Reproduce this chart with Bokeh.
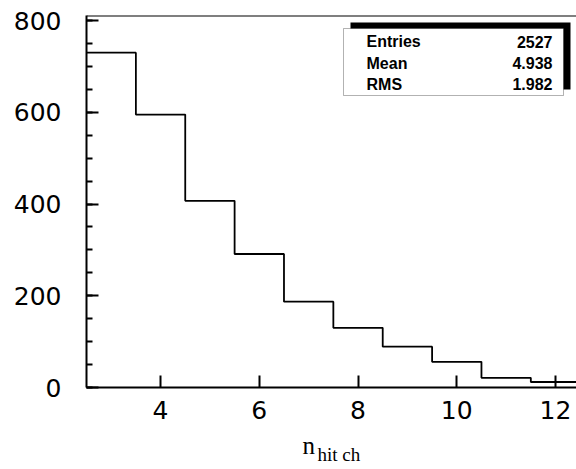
from bokeh.plotting import figure
from bokeh.models import Range1d, Label, FixedTicker, BoxAnnotation, Span
from bokeh.layouts import column
from bokeh.embed import file_html
from bokeh.resources import INLINE
from bokeh.core.properties import value

# ---- data ----
bin_centers = [3, 4, 5, 6, 7, 8, 9, 10, 11, 12]
counts = [730, 595, 407, 291, 187, 130, 89, 56, 21, 12]
x_ticks = [4, 6, 8, 10, 12]
y_ticks = [0, 200, 400, 600, 800]
y_minor = list(range(0, 851, 50))
stat_names = ["Entries", "Mean", "RMS"]
stat_values = ["2527", "4.938", "1.982"]
x_label_main = "n"
x_label_sub = "hit ch"

X0, X1 = 2.5, 12.425
Y0, Y1 = 0, 811

W = 576
H1, H2 = 430, 39
FL, FT, FB = 86, 15, 387  # frame left/top/bottom in px
p = figure(width=W, height=H1, x_range=Range1d(X0, X1), y_range=Range1d(Y0, Y1),
           output_backend="svg", toolbar_location=None,
           min_border_left=FL, min_border_right=0, min_border_top=FT,
           min_border_bottom=H1 - FB)
p.outline_line_color = None
p.grid.visible = False
p.background_fill_color = "white"
p.border_fill_color = "white"

def px_x(px):
    return X0 + (px - FL) / (W - FL) * (X1 - X0)

def px_y(py):
    return Y1 - (py - FT) / (FB - FT) * (Y1 - Y0)

# axes
ya = p.yaxis[0]
ya.ticker = FixedTicker(ticks=y_ticks, minor_ticks=y_minor)
xa = p.xaxis[0]
xa.ticker = FixedTicker(ticks=x_ticks, minor_ticks=[])
for ax in (xa, ya):
    ax.axis_line_width = 2
    ax.axis_line_color = "black"
    ax.major_tick_in = 12
    ax.major_tick_out = 0
    ax.minor_tick_in = 6
    ax.minor_tick_out = 0
    ax.major_tick_line_width = 2
    ax.minor_tick_line_width = 2
    ax.major_tick_line_color = "black"
    ax.minor_tick_line_color = "black"
    ax.major_label_text_font = "DejaVu Sans"
    ax.major_label_text_font_size = "25px"
    ax.major_label_text_color = "black"
ya.major_label_standoff = 25
xa.major_label_standoff = 13

# top border
p.add_layout(Span(location=Y1, dimension="width", line_color="black", line_width=2))

# histogram
edges = [c - 0.5 for c in bin_centers] + [bin_centers[-1] + 0.5]
ys = counts + [counts[-1]]
p.step(edges, ys, mode="after", line_color="black", line_width=1.8)

# stats box with shadow
p.add_layout(BoxAnnotation(left=px_x(350), right=px_x(570), top=px_y(22), bottom=px_y(89),
                           fill_color="black", fill_alpha=1, line_color=None))
p.add_layout(BoxAnnotation(left=px_x(343), right=px_x(563), top=px_y(28), bottom=px_y(95),
                           fill_color="white", fill_alpha=1, line_color="black", line_width=1))
row_y = [41, 62.5, 83.5]
for name, val, ry in zip(stat_names, stat_values, row_y):
    p.add_layout(Label(x=px_x(366), y=px_y(ry), text=name, text_align="left",
                       text_baseline="middle", text_font="Liberation Sans",
                       text_font_style="bold", text_font_size="16px", text_color="black"))
    p.add_layout(Label(x=px_x(552), y=px_y(ry), text=val, text_align="right",
                       text_baseline="middle", text_font="Liberation Sans",
                       text_font_style="bold", text_font_size="16px", text_color="black"))

# x axis title strip: same horizontal frame as main plot, vertical range in page px
p2 = figure(width=W, height=H2, x_range=Range1d(X0, X1), y_range=Range1d(H1 + H2, H1),
            output_backend="svg", toolbar_location=None, x_axis_type=None, y_axis_type=None,
            min_border_left=FL, min_border_right=0, min_border_top=0, min_border_bottom=0)
p2.outline_line_color = None
p2.grid.visible = False
p2.text(x=[px_x(302)], y=[445], text=[x_label_main], text_align="left",
        text_baseline="alphabetic", text_font=value("Liberation Serif"),
        text_font_size="25px", text_color="black")
p2.text(x=[px_x(317)], y=[454], text=[x_label_sub], text_align="left",
        text_baseline="alphabetic", text_font=value("Liberation Serif"),
        text_font_size="19px", text_color="black")

layout = column(p, p2, spacing=0)
open("out.html", "w").write(file_html(layout, INLINE))
